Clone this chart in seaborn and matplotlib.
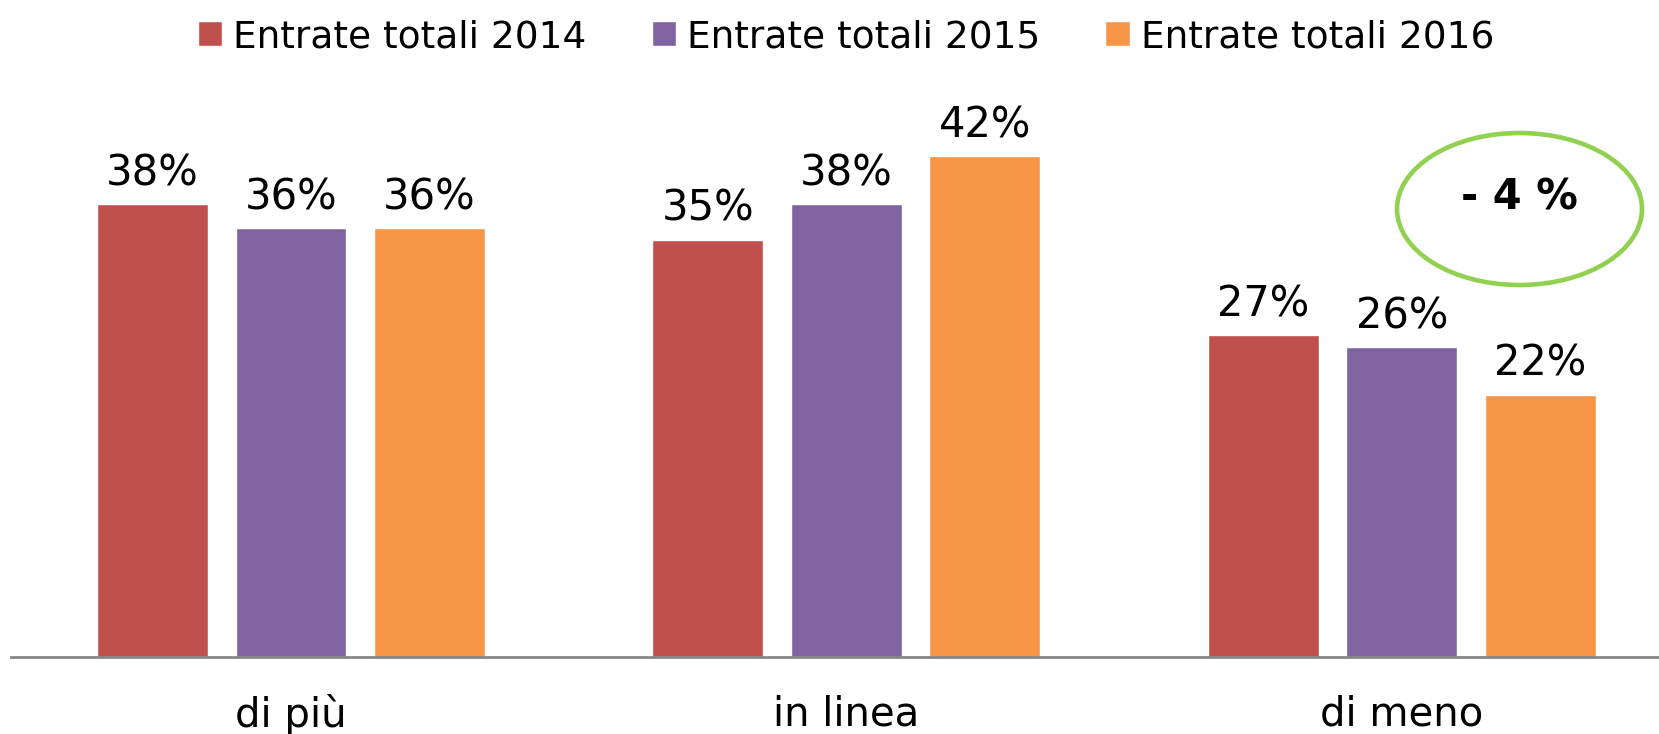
# plot.py
# Entrate totali 2014-2016 — grouped bars with % labels
# ─────────────────────────────────────────────────────

import pandas as pd
import matplotlib.pyplot as plt
import seaborn as sns
from matplotlib.patches import Ellipse

# ── Data ─────────────────────────────────────
categories = ['di più', 'in linea', 'di meno']
series = ['Entrate totali 2014', 'Entrate totali 2015', 'Entrate totali 2016']
vals_2014 = [38, 35, 27]
vals_2015 = [36, 38, 26]
vals_2016 = [36, 42, 22]
colors = ['#C0504D', '#8064A2', '#F79646']

df = pd.DataFrame({
    'cat': categories * 3,
    'serie': [s for s in series for _ in categories],
    'val': vals_2014 + vals_2015 + vals_2016,
})

# ── Setup ─────────────────────────────────────
sns.set_theme(style='white')
plt.rcParams['font.family'] = ['DejaVu Sans']
plt.rcParams['text.color'] = 'black'

fig = plt.figure(figsize=(16.59, 7.34), dpi=100)
ax = fig.add_axes([11/1659, 77/734, 1648/1659, 657/734])

sns.barplot(
    data=df, x='cat', y='val', hue='serie',
    palette=colors, width=0.748, gap=0.2,
    saturation=1, ax=ax
)

# ── Labels on bars ────────────────────────────
for cont in ax.containers:
    ax.bar_label(cont, labels=[f'{v:.0f}%' for v in cont.datavalues],
                 padding=7, fontsize=30, color='black')

ax.set_ylim(0, 55.1)
ax.set_xlim(-0.504, 2.463)
ax.set_xlabel('')
ax.set_ylabel('')
ax.set_yticks([])
ax.set_xticks(range(len(categories)))
ax.set_xticklabels(categories, fontsize=29, color='black')
ax.tick_params(axis='x', length=0, pad=27)
for s in ['top', 'right', 'left']:
    ax.spines[s].set_visible(False)
ax.spines['bottom'].set_color('#868686')
ax.spines['bottom'].set_linewidth(2)

# ── Legend ───────────────────────────────────
handles, labels = ax.get_legend_handles_labels()
ax.get_legend().remove()
fig.legend(
    handles, labels, ncol=3, loc='center',
    bbox_to_anchor=(846/1659, 1 - 37/734),
    frameon=False, fontsize=27, labelcolor='black',
    handlelength=0.65, handleheight=0.65,
    handletextpad=0.3, columnspacing=1.73
)

# ── Callout ──────────────────────────────────
ell = Ellipse((1519.5/1659, 1 - 209/734), 245/1659, 152/734,
              transform=fig.transFigure, fill=False,
              edgecolor='#92D050', linewidth=3.3)
fig.add_artist(ell)
fig.text(1519/1659, 1 - 197/734, '- 4 %', ha='center', va='center',
         fontsize=30, fontweight='bold', color='black')

plt.savefig('out.png', dpi=100)
